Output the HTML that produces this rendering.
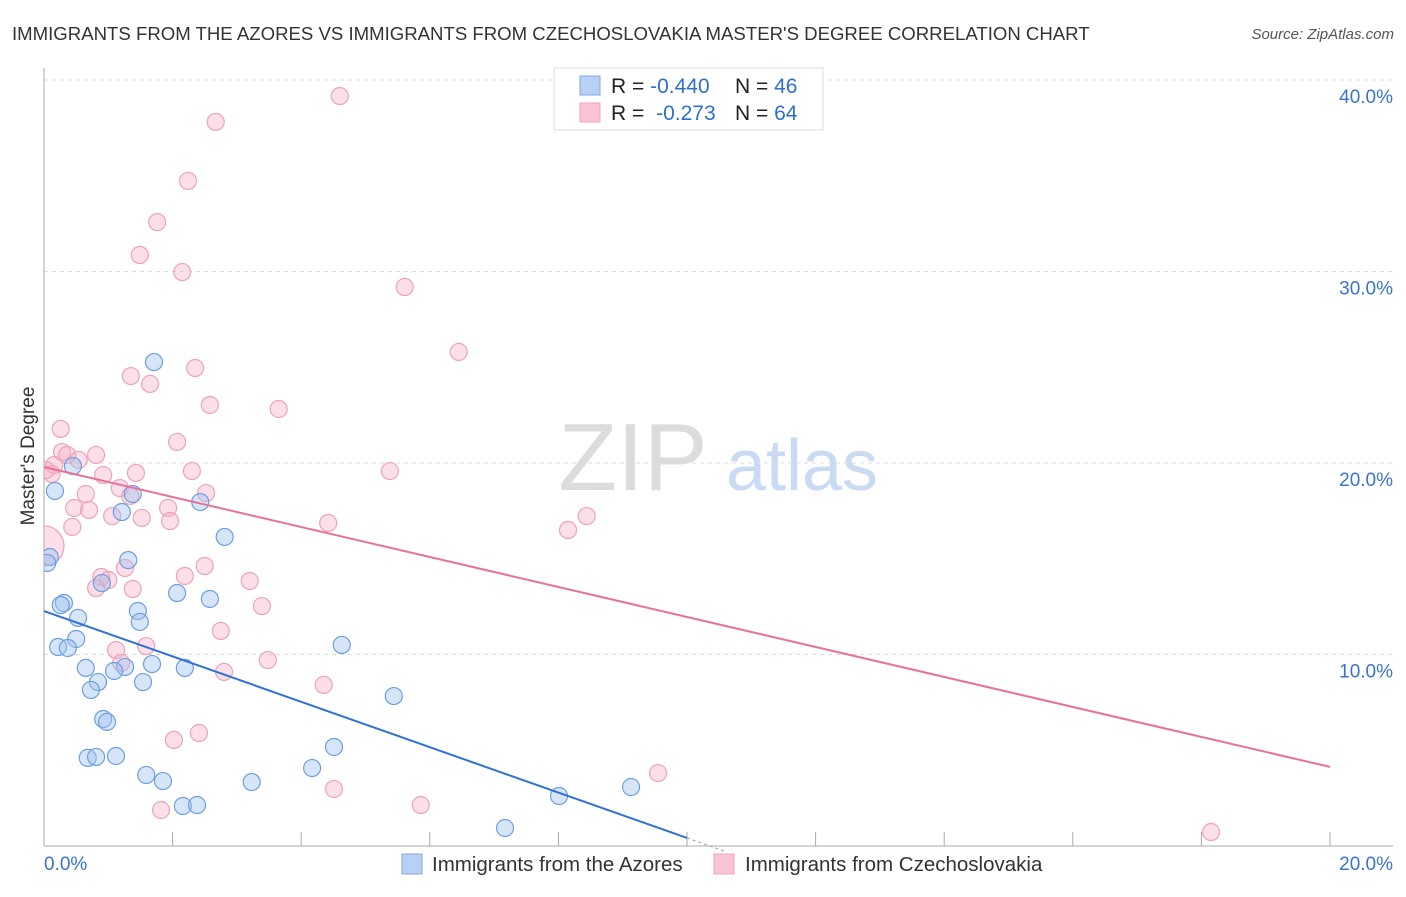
<!DOCTYPE html>
<html><head><meta charset="utf-8"><style>
body{margin:0;background:#fff;font-family:"Liberation Sans",sans-serif}
svg text{font-family:"Liberation Sans",sans-serif}
</style></head><body>
<svg width="1406" height="892" viewBox="0 0 1406 892">
<defs><clipPath id="plotclip"><rect x="44" y="60" width="1360" height="786"/></clipPath></defs>
<text x="12" y="40" font-size="18.6" fill="#333">IMMIGRANTS FROM THE AZORES VS IMMIGRANTS FROM CZECHOSLOVAKIA MASTER'S DEGREE CORRELATION CHART</text>
<text x="1394" y="39" font-size="15" fill="#555" font-style="italic" text-anchor="end">Source: ZipAtlas.com</text>
<g>
<text x="633" y="490" font-size="96" fill="#dcdcdc" font-family="Liberation Serif" text-anchor="middle">ZIP</text>
<text x="802" y="490" font-size="72" fill="#c9daf3" text-anchor="middle">atlas</text>
</g>
<g id="grid"></g>
<g id="axes"></g>
<g id="pts" clip-path="url(#plotclip)"></g>
<g id="lines"></g>
<text transform="translate(34,456) rotate(-90)" font-size="19" fill="#333" text-anchor="middle">Master's Degree</text>
<g>
<rect x="554" y="68" width="269" height="62" fill="#fff" stroke="#ddd"/>
<rect x="580" y="76" width="20" height="19" fill="#b8d0f3" stroke="#7ea8e4"/>
<rect x="580" y="103" width="20" height="19" fill="#fac4d4" stroke="#eda4bb"/>
<text x="611" y="93" font-size="21" fill="#222">R = <tspan fill="#2f6fd0">-0.440</tspan><tspan x="735">N = </tspan><tspan fill="#2f6fd0">46</tspan></text>
<text x="611" y="120" font-size="21" fill="#222">R = <tspan fill="#2f6fd0" dx="6">-0.273</tspan><tspan x="735">N = </tspan><tspan fill="#2f6fd0">64</tspan></text>
</g>
<g>
<rect x="402" y="854" width="20" height="20" fill="#b8d0f3" stroke="#7ea8e4"/>
<text x="432" y="871" font-size="20.5" fill="#333">Immigrants from the Azores</text>
<rect x="714" y="854" width="20" height="20" fill="#fac4d4" stroke="#eda4bb"/>
<text x="745" y="871" font-size="20.5" fill="#333">Immigrants from Czechoslovakia</text>
</g>
</svg>
<script>
const yTicks=[10,20,30,40];
const yTickLabels=["10.0%","20.0%","30.0%","40.0%"];
const xTickVals=[0,2,4,6,8,10,12,14,16,18,20];
const azoresX=[1.71,0.45,0.17,1.38,1.21,2.43,2.81,1.31,0.09,0.05,0.90,0.31,0.26,2.07,2.58,0.53,1.46,1.49,0.50,0.22,0.37,4.63,1.68,1.26,1.09,0.65,2.19,0.84,0.73,1.54,5.44,0.92,0.98,4.51,0.68,0.81,1.12,4.17,1.59,1.85,3.23,9.13,8.01,2.16,2.38,7.17];
const azoresY=[25.27,19.84,18.54,18.38,17.44,17.96,16.14,14.93,15.09,14.78,13.73,12.69,12.58,13.21,12.90,11.91,12.27,11.70,10.81,10.39,10.34,10.50,9.50,9.35,9.14,9.30,9.30,8.56,8.15,8.56,7.83,6.63,6.48,5.17,4.60,4.65,4.70,4.07,3.71,3.39,3.34,3.08,2.61,2.09,2.14,0.94];
const czechX=[4.60,2.67,2.24,1.76,1.49,2.15,5.61,6.45,2.35,1.35,1.65,2.58,3.65,0.26,2.07,0.28,0.81,0.36,0.16,0.54,0.12,2.30,0.92,5.38,1.43,1.18,1.34,0.65,2.52,0.47,0.70,1.93,1.06,1.52,1.96,4.42,8.44,8.15,0.44,1.26,0.89,2.50,2.19,3.20,0.81,3.39,2.75,1.59,1.12,3.48,1.20,2.80,4.35,2.02,2.41,9.55,4.51,5.86,1.82,18.15,1.00,1.38,0.03,0];
const czechY=[39.16,37.81,34.73,32.58,30.86,29.97,29.19,25.80,24.96,24.54,24.13,23.03,22.82,21.78,21.10,20.57,20.42,20.42,19.90,20.16,19.43,19.58,19.37,19.58,19.48,18.69,18.28,18.38,18.43,17.65,17.55,17.65,17.23,17.13,16.97,16.87,17.23,16.50,16.66,14.52,14.05,14.62,14.10,13.84,13.47,12.53,11.23,10.44,10.23,9.71,9.56,9.09,8.41,5.54,5.90,3.81,2.98,2.14,1.88,0.73,13.89,13.42,19.63,15.67];
const azoresTrend=[12.27,0.42];
const czechTrend=[19.79,4.13];
const NS="http://www.w3.org/2000/svg";
const X=v=>44+v*64.3, Y=v=>846-v*19.15;
function mk(tag,attrs,parent){const e=document.createElementNS(NS,tag);for(const k in attrs)e.setAttribute(k,attrs[k]);document.getElementById(parent).appendChild(e);return e;}
yTicks.forEach((t,i)=>{
 const l=mk('line',{x1:44,x2:1393,y1:Y(t),y2:Y(t),stroke:'#ddd','stroke-dasharray':'4,4'},'grid');
 
 
 const tx=mk('text',{x:1393,y:Y(t)+23,'font-size':19,fill:'#3b73cc','text-anchor':'end'},'grid');
 tx.textContent=yTickLabels[i];
 
 
});
const topGrid=mk('line',{x1:44,x2:1393,y1:80,y2:80,stroke:'#ddd','stroke-dasharray':'4,4'},'grid');


const ya=mk('line',{x1:44,x2:44,y1:68,y2:846,stroke:'#aaa'},'axes');


const xa=mk('line',{x1:44,x2:1393,y1:846,y2:846,stroke:'#aaa'},'axes');


xTickVals.forEach(v=>{
 if(v===0)return;
 const t=mk('line',{x1:X(v),x2:X(v),y1:832,y2:846,stroke:'#aaa'},'axes');
 
 
});
const xl0=mk('text',{x:44,y:870,'font-size':19,fill:'#3b73cc'},'axes');xl0.textContent='0.0%';


const xl1=mk('text',{x:1393,y:870,'font-size':19,fill:'#3b73cc','text-anchor':'end'},'axes');xl1.textContent='20.0%';


czechX.forEach((x,i)=>{
 const c=mk('circle',{cx:X(x),cy:Y(czechY[i]),r:(x===0?20:8.5),fill:'rgba(246,170,196,0.38)',stroke:'#eca3bb','stroke-width':1.2},'pts');
 
 
});
azoresX.forEach((x,i)=>{
 const c=mk('circle',{cx:X(x),cy:Y(azoresY[i]),r:8.5,fill:'rgba(160,194,240,0.42)',stroke:'#6d9fe0','stroke-width':1.2},'pts');
 
 
});
const bl=mk('line',{x1:X(0),y1:Y(azoresTrend[0]),x2:X(10),y2:Y(azoresTrend[1]),stroke:'#2f72d6','stroke-width':2},'lines');


const slope=(azoresTrend[1]-azoresTrend[0])/10;
const bd=mk('line',{x1:X(10),y1:Y(azoresTrend[1]),x2:X(10.6),y2:Y(azoresTrend[1]+slope*0.6),stroke:'#aaa','stroke-width':1.2,'stroke-dasharray':'3,3'},'lines');


const pl=mk('line',{x1:X(0),y1:Y(czechTrend[0]),x2:X(20),y2:Y(czechTrend[1]),stroke:'#e8709a','stroke-width':2},'lines');


</script>
</body></html>
